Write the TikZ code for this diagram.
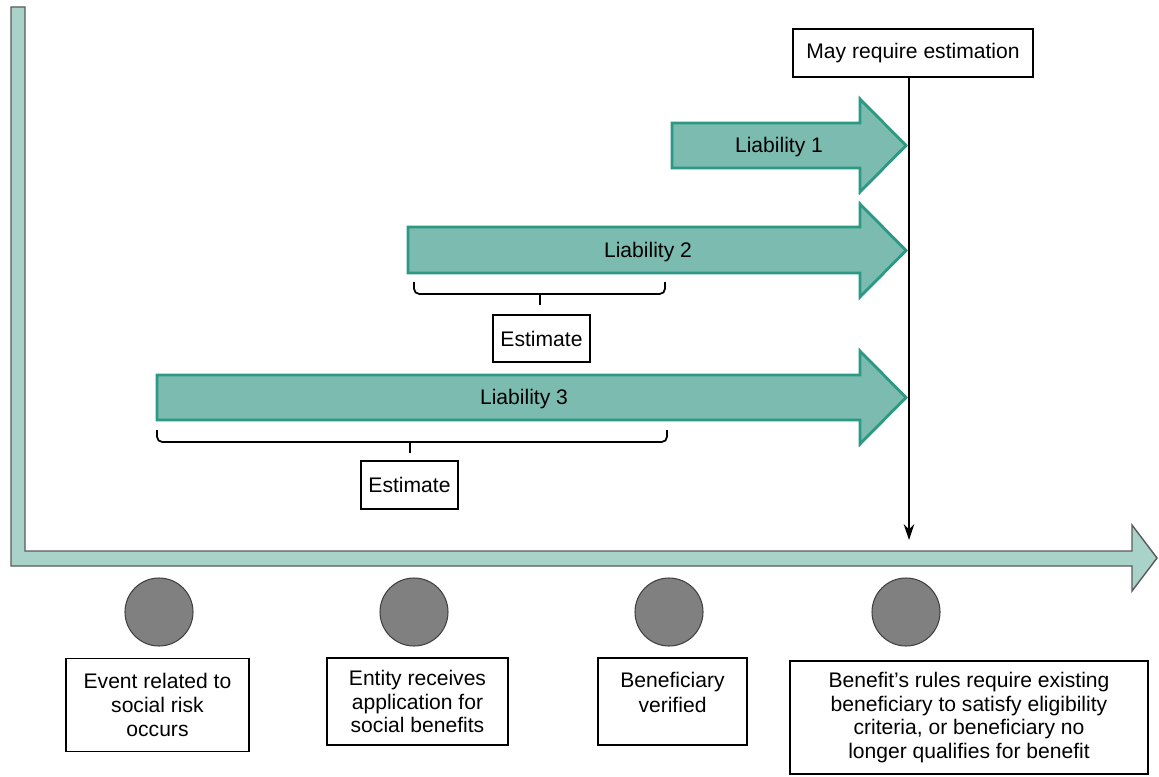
\documentclass[tikz,border=0pt]{standalone}
\usepackage{fontspec}
\setmainfont{Liberation Sans}
\usetikzlibrary{arrows.meta}
\definecolor{axisfill}{HTML}{A9D3C9}
\definecolor{axisline}{HTML}{5A5A5A}
\definecolor{liabfill}{HTML}{7CBCB0}
\definecolor{liabline}{HTML}{2C9984}
\definecolor{dotfill}{HTML}{808080}
\definecolor{dotline}{HTML}{404040}
\tikzset{
  axisband/.style={fill=axisfill, draw=axisline, line width=0.8pt, line join=miter},
  liabarrow/.style={fill=liabfill, draw=liabline, line width=1.6pt, line join=miter},
  liablabel/.style={inner sep=0pt, font=\fontsize{12}{13.6}\selectfont},
  textbox/.style={draw=black, line width=0.6pt, fill=white, align=center, inner sep=2pt,
    font=\fontsize{12}{13.6}\selectfont},
  eventdot/.style={circle, fill=dotfill, draw=dotline, line width=0.6pt, minimum size=68*0.02cm, inner sep=0pt},
  bracket/.style={draw=black, line width=1pt, rounded corners=3pt},
}
\begin{document}
\begin{tikzpicture}[x=0.02cm, y=-0.02cm]
\useasboundingbox (0,0) rectangle (1159,777);

% time axis: L-shaped band ending in an arrowhead
\draw[axisband] (11,7) -- (25,7) -- (25,551) -- (1132,551) -- (1132,525)
  -- (1157,558) -- (1132,591) -- (1132,566) -- (11,566) -- cycle;

% liability arrows
\draw[liabarrow] (672,123) -- (860,123) -- (860,99) -- (906,145.5) -- (860,192)
  -- (860,168) -- (672,168) -- cycle;
\node[liablabel] (l1) at (779,147) {Liability 1};

\draw[liabarrow] (408,227) -- (860,227) -- (860,204) -- (906,250.5) -- (860,297)
  -- (860,273) -- (408,273) -- cycle;
\node[liablabel] (l2) at (648,252) {Liability 2};

\draw[liabarrow] (157,375) -- (860,375) -- (860,351) -- (906,397.5) -- (860,444)
  -- (860,420) -- (157,420) -- cycle;
\node[liablabel] (l3) at (524,399) {Liability 3};

% estimation marker
\node[textbox, minimum width=240*0.02cm, minimum height=48*0.02cm] (may) at (913,53) {May require estimation};
\coordinate (mayend) at (909,540);
\draw[line width=1pt, -{Stealth[length=9pt, width=6pt]}] (may.south -| mayend) -- (mayend);

% estimate brackets
\draw[bracket] (414,282) -- (414,294) -- (665,294) -- (665,282);
\coordinate (b2) at (540,294);
\node[textbox, minimum width=97*0.02cm, minimum height=47*0.02cm] (est2) at (541.5,338.5) {Estimate};
\draw[line width=1pt] (b2) -- (540,305);

\draw[bracket] (157,430) -- (157,442) -- (667,442) -- (667,430);
\coordinate (b3) at (410,442);
\node[textbox, minimum width=97*0.02cm, minimum height=48*0.02cm] (est3) at (409.5,485) {Estimate};
\draw[line width=1pt] (b3) -- (410,453);

% events on the time axis
\node[eventdot] (d1) at (159,612) {};
\node[eventdot] (d2) at (414,612) {};
\node[eventdot] (d3) at (669,612) {};
\node[eventdot] (d4) at (906,612) {};

\node[textbox, minimum width=183*0.02cm, minimum height=93*0.02cm] (e1) at (157.5,705)
  {Event related to\\social risk\\occurs};
\node[textbox, minimum width=181*0.02cm, minimum height=87*0.02cm] (e2) at (417.5,701.5)
  {Entity receives\\application for\\social benefits};
\node[textbox, minimum width=149*0.02cm, minimum height=87*0.02cm] (e3) at (672.5,701.5)
  {Beneficiary\\[0.8pt]verified\\[-7pt]\strut};
\node[textbox, minimum width=358*0.02cm, minimum height=113*0.02cm] (e4) at (969,717.5)
  {Benefit’s rules require existing\\beneficiary to satisfy eligibility\\criteria, or beneficiary no\\longer qualifies for benefit};
\end{tikzpicture}
\end{document}
